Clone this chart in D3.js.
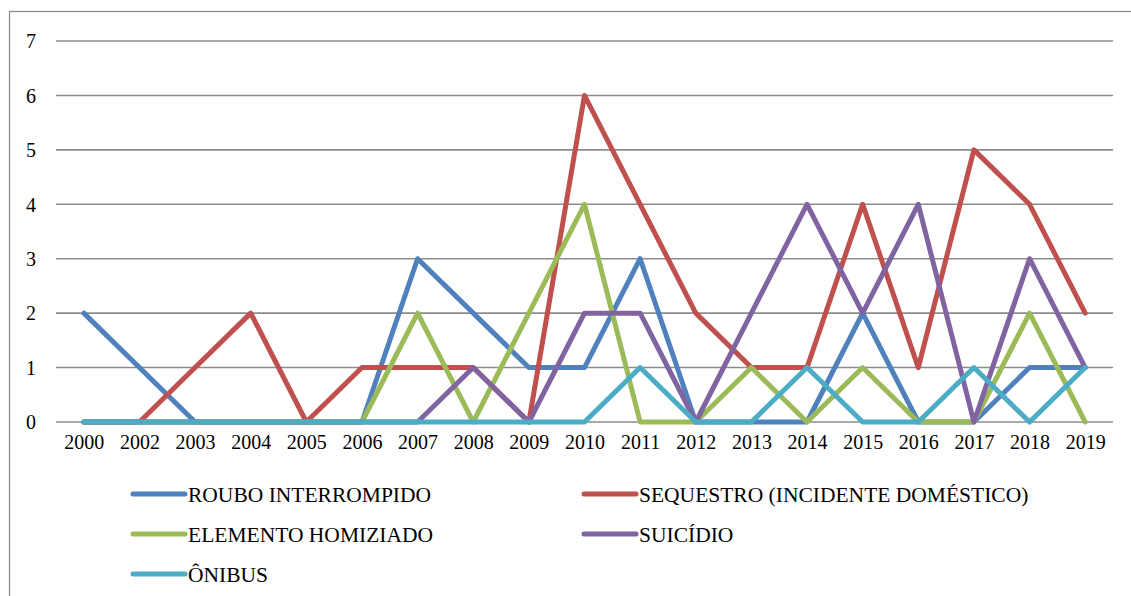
<!DOCTYPE html>
<html>
<head>
<meta charset="utf-8">
<script src="https://cdn.jsdelivr.net/npm/d3@7"></script>
</head>
<body style="margin:0">
<svg id="chart" width="1131" height="596" font-family="Liberation Serif" style="display:block;font-family:'Liberation Serif'"></svg>
<script>
const years = ["2000","2002","2003","2004","2005","2006","2007","2008","2009","2010",
               "2011","2012","2013","2014","2015","2016","2017","2018","2019"];
const roubo     = [2,1,0,0,0,0,3,2,1,1,3,0,0,0,2,0,0,1,1];
const sequestro = [0,0,1,2,0,1,1,1,0,6,4,2,1,1,4,1,5,4,2];
const elemento  = [0,0,0,0,0,0,2,0,2,4,0,0,1,0,1,0,0,2,0];
const suicidio  = [0,0,0,0,0,0,0,1,0,2,2,0,2,4,2,4,0,3,1];
const onibus    = [0,0,0,0,0,0,0,0,0,0,1,0,0,1,0,0,1,0,1];
const yTicks = [0,1,2,3,4,5,6,7];

const series = [
  { name: "ROUBO INTERROMPIDO", values: roubo, color: "#4F81BD" },
  { name: "SEQUESTRO (INCIDENTE DOMÉSTICO)", values: sequestro, color: "#C0504D" },
  { name: "ELEMENTO HOMIZIADO", values: elemento, color: "#9BBB59" },
  { name: "SUICÍDIO", values: suicidio, color: "#8064A2" },
  { name: "ÔNIBUS", values: onibus, color: "#4BACC6" }
];

const svg = d3.select("#chart");

// outer chart frame
svg.append("rect")
  .attr("x", 9.5).attr("y", 11.5)
  .attr("width", 1140).attr("height", 600)
  .attr("fill", "none").attr("stroke", "#888").attr("stroke-width", 1.2);

const plot = { left: 56, right: 1113, top: 41, bottom: 422 };

const x = d3.scalePoint().domain(years)
  .range([plot.left, plot.right]).padding(0.5);
const y = d3.scaleLinear().domain([0, 7]).range([plot.bottom, plot.top]);

// horizontal gridlines
svg.append("g").selectAll("line").data(yTicks).join("line")
  .attr("x1", plot.left).attr("x2", plot.right)
  .attr("y1", d => y(d)).attr("y2", d => y(d))
  .attr("stroke", "#8c8c8c").attr("stroke-width", 1.6);

// y axis labels
const yAxis = svg.append("g")
  .attr("transform", `translate(${plot.left - 25},0)`)
  .call(d3.axisLeft(y).tickValues(yTicks).tickSize(0).tickPadding(0).tickFormat(d3.format("d")));
yAxis.attr("font-family", "Liberation Serif").attr("font-size", 20);
yAxis.select(".domain").remove();
yAxis.selectAll("text")
  .attr("text-anchor", "middle").attr("fill", "#000").attr("dy", "0.34em")
  .attr("font-family", "Liberation Serif");

// x axis labels
const xAxis = svg.append("g")
  .attr("transform", `translate(0,${plot.bottom + 13})`)
  .call(d3.axisBottom(x).tickSize(0).tickPadding(0));
xAxis.attr("font-family", "Liberation Serif").attr("font-size", 20);
xAxis.select(".domain").remove();
xAxis.selectAll("text")
  .attr("dy", "0.71em").attr("fill", "#000")
  .attr("font-family", "Liberation Serif");

// series lines
const line = d3.line()
  .x((d, i) => x(years[i]))
  .y(d => y(d));

svg.append("g").selectAll("path").data(series).join("path")
  .attr("d", s => line(s.values))
  .attr("fill", "none")
  .attr("stroke", s => s.color)
  .attr("stroke-width", 5)
  .attr("stroke-linejoin", "round")
  .attr("stroke-linecap", "round");

// legend
const legendPos = [
  { x: 133, y: 494 }, { x: 584, y: 494 },
  { x: 133, y: 534 }, { x: 584, y: 534 },
  { x: 133, y: 574 }
];
const legend = svg.append("g").selectAll("g").data(series).join("g")
  .attr("transform", (s, i) => `translate(${legendPos[i].x},${legendPos[i].y})`);
legend.append("line")
  .attr("x1", 0).attr("x2", 52).attr("y1", 0).attr("y2", 0)
  .attr("stroke", s => s.color).attr("stroke-width", 5)
  .attr("stroke-linecap", "round");
legend.append("text")
  .attr("x", 55).attr("y", 0).attr("dy", "0.35em")
  .attr("fill", "#000")
  .attr("font-family", "Liberation Serif")
  .attr("font-size", 21.5)
  .text(s => s.name);
</script>
</body>
</html>
